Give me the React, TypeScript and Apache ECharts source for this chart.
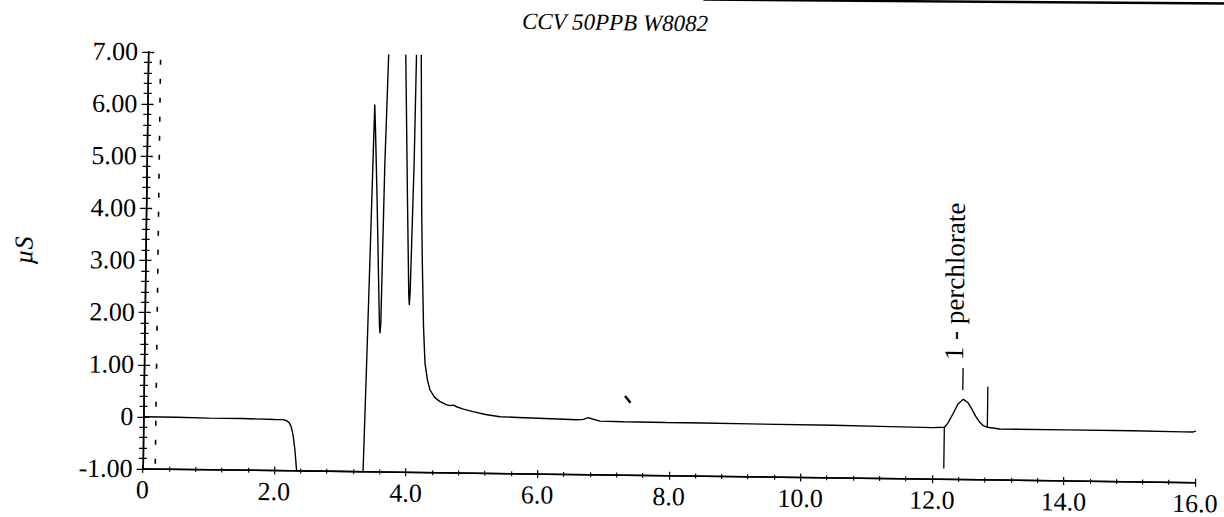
import React, { useEffect, useRef } from "react";
import * as echarts from "echarts";

// Chromatogram trace: retention time (min) and conductivity (µS)
const retentionTime = [
  0.0, 0.5, 1.0, 1.5, 2.0, 2.12, 2.18, 2.22, 2.25, 2.28,
  2.31, 2.34, 3.35, 3.38, 3.41, 3.44, 3.455, 3.47, 3.51, 3.57,
  3.58, 3.59, 3.62, 3.78, 3.97, 4.01, 4.02, 4.03, 4.065, 4.115,
  4.15, 4.19, 4.21, 4.24, 4.27, 4.31, 4.35, 4.42, 4.5, 4.6,
  4.66, 4.71, 4.76, 4.85, 5.01, 5.2, 5.42, 5.7, 6.0, 6.3,
  6.59, 6.69, 6.76, 6.84, 6.94, 7.3, 7.95, 8.5, 9.22, 10.49,
  11.2, 12.0, 12.18, 12.23, 12.31, 12.38, 12.46, 12.53, 12.585, 12.65,
  12.71, 12.77, 12.83, 13.02, 14.02, 15.04, 15.8, 15.95, 16.0,
];
const conductivity = [
  0.0, 0.0, -0.01, -0.01, -0.02, -0.02, -0.04, -0.08, -0.16, -0.32,
  -0.6, -1.0, -1.0, 0.9, 2.9, 5.0, 6.05, 5.6, 4.2, 1.8,
  1.66, 1.85, 4.92, 14.0, 4.29, 2.4, 2.21, 2.45, 4.92, 12.0,
  7.2, 4.0, 3.0, 1.8, 1.1, 0.78, 0.59, 0.45, 0.37, 0.31,
  0.29, 0.3, 0.27, 0.23, 0.18, 0.13, 0.09, 0.08, 0.07, 0.06,
  0.05, 0.06, 0.095, 0.065, 0.03, 0.025, 0.02, 0.02, 0.015, 0.01,
  0.0, -0.01, 0.0, 0.08, 0.27, 0.45, 0.54, 0.48, 0.37, 0.22,
  0.11, 0.04, 0.01, -0.02, -0.02, -0.02, -0.03, -0.03, -0.01,
];

// Integration markers for the perchlorate peak
const injectionTime = 0.18;
const peakStart = 12.18;
const peakStartSpan = [0.01, -0.79];
const peakEnd = 12.83;
const peakEndSpan = [0.79, 0.02];
const peakApex = 12.45;
const peakApexTick = [0.72, 1.14];
const peakName = "1 - perchlorate";
const peakLabelAnchor = [12.31, 1.29];

const chartTitle = "CCV 50PPB W8082";
const yUnit = "µS";

const FONT = "'Liberation Serif', 'Times New Roman', serif";
const PAD = 20; // extra room above/below so the slightly tilted sheet is not cut
const TILT = 0.75; // degrees

export default function App() {
  const ref = useRef<HTMLDivElement>(null);

  useEffect(() => {
    if (!ref.current) return;
    const chart = echarts.init(ref.current, null, { renderer: "svg" });
    const points = retentionTime.map((t, i) => [t, conductivity[i]]);

    const xBase = {
      type: "value",
      min: 0,
      max: 16,
      interval: 2,
      position: "bottom",
      gridIndex: 0,
      axisLine: { show: true, onZero: false, lineStyle: { color: "#000", width: 1.5 } },
      splitLine: { show: false },
      minorSplitLine: { show: false },
    };
    const yBase = {
      type: "value",
      min: -1,
      max: 7,
      interval: 1,
      position: "left",
      gridIndex: 0,
      axisLine: { show: true, onZero: false, lineStyle: { color: "#000", width: 1.5 } },
      splitLine: { show: false },
      minorSplitLine: { show: false },
    };

    chart.setOption({
      animation: false,
      backgroundColor: "#fff",
      title: {
        text: chartTitle,
        left: "center",
        top: 6 + PAD,
        textStyle: {
          fontFamily: FONT,
          fontStyle: "italic",
          fontWeight: "normal",
          fontSize: 23,
          color: "#000",
        },
      },
      grid: {
        left: 145.5,
        right: 26,
        top: 58 + PAD,
        bottom: 42 + PAD,
        containLabel: false,
        outerBoundsMode: "none",
      },
      xAxis: [
        {
          ...xBase,
          axisTick: { show: true, length: 4, lineStyle: { color: "#000", width: 1.2 } },
          minorTick: { show: true, splitNumber: 5, length: 2.5, lineStyle: { color: "#000", width: 1.1 } },
          axisLabel: {
            color: "#000",
            fontFamily: FONT,
            fontSize: 26,
            margin: 8,
            formatter: (v: number) => (v === 0 ? "0" : v.toFixed(1)),
          },
        },
        {
          ...xBase,
          axisTick: { show: true, inside: true, length: 4, lineStyle: { color: "#000", width: 1.2 } },
          minorTick: { show: true, splitNumber: 5, length: 2.5, lineStyle: { color: "#000", width: 1.1 } },
          axisLabel: { show: false },
        },
      ],
      yAxis: [
        {
          ...yBase,
          axisTick: { show: true, length: 6, lineStyle: { color: "#000", width: 1.3 } },
          minorTick: { show: true, splitNumber: 5, length: 4, lineStyle: { color: "#000", width: 1.2 } },
          axisLabel: {
            color: "#000",
            fontFamily: FONT,
            fontSize: 26,
            margin: 10,
            formatter: (v: number) => (v === 0 ? "0" : v.toFixed(2)),
          },
        },
        {
          ...yBase,
          axisTick: { show: true, inside: true, length: 6, lineStyle: { color: "#000", width: 1.3 } },
          minorTick: { show: true, splitNumber: 5, length: 4, lineStyle: { color: "#000", width: 1.2 } },
          axisLabel: { show: false },
        },
      ],
      series: [
        {
          type: "line",
          xAxisIndex: 0,
          yAxisIndex: 0,
          data: points,
          showSymbol: false,
          symbol: "none",
          clip: true,
          lineStyle: { color: "#000", width: 1.4 },
          emphasis: { disabled: true },
          markLine: {
            silent: true,
            symbol: ["none", "none"],
            label: { show: false },
            emphasis: { disabled: true },
            lineStyle: { color: "#000", width: 1.3, type: "solid" },
            data: [
              [
                { coord: [injectionTime, -0.9], lineStyle: { type: [5, 14], width: 1.6, color: "#000" } },
                { coord: [injectionTime, 7] },
              ],
              [{ coord: [peakStart, peakStartSpan[0]] }, { coord: [peakStart, peakStartSpan[1]] }],
              [{ coord: [peakEnd, peakEndSpan[0]] }, { coord: [peakEnd, peakEndSpan[1]] }],
              [{ coord: [peakApex, peakApexTick[0]] }, { coord: [peakApex, peakApexTick[1]] }],
            ],
          },
        },
      ],
    });

    const [lx, ly] = chart.convertToPixel({ gridIndex: 0 }, peakLabelAnchor) as number[];

    chart.setOption({
      graphic: [
        {
          type: "text",
          x: lx,
          y: ly,
          rotation: Math.PI / 2,
          style: {
            text: peakName,
            fontFamily: FONT,
            fontSize: 27,
            fill: "#000",
            align: "left",
            verticalAlign: "middle",
          },
        },
        {
          type: "text",
          x: 24,
          y: 258 + PAD,
          rotation: Math.PI / 2,
          style: {
            text: yUnit,
            fontFamily: FONT,
            fontStyle: "italic",
            fontSize: 26,
            fill: "#000",
            align: "center",
            verticalAlign: "middle",
          },
        },
        {
          // edge of the sheet along the top right
          type: "line",
          shape: { x1: 700, y1: PAD - 1.5, x2: 1224, y2: PAD - 4.5 },
          style: { stroke: "#000", lineWidth: 2.4 },
        },
        {
          // small pen stroke in the middle of the plot
          type: "line",
          shape: { x1: 626.8, y1: 395.8 + PAD, x2: 632.4, y2: 402.6 + PAD },
          style: { stroke: "#000", lineWidth: 2.4 },
        },
      ],
    });

    return () => chart.dispose();
  }, []);

  return (
    <div
      style={{
        position: "absolute",
        left: 0,
        top: -PAD,
        width: 1224,
        height: 517 + 2 * PAD,
        transform: `rotate(${TILT}deg)`,
        transformOrigin: "50% 50%",
      }}
    >
      <div ref={ref} style={{ width: "100%", height: "100%" }} />
    </div>
  );
}
